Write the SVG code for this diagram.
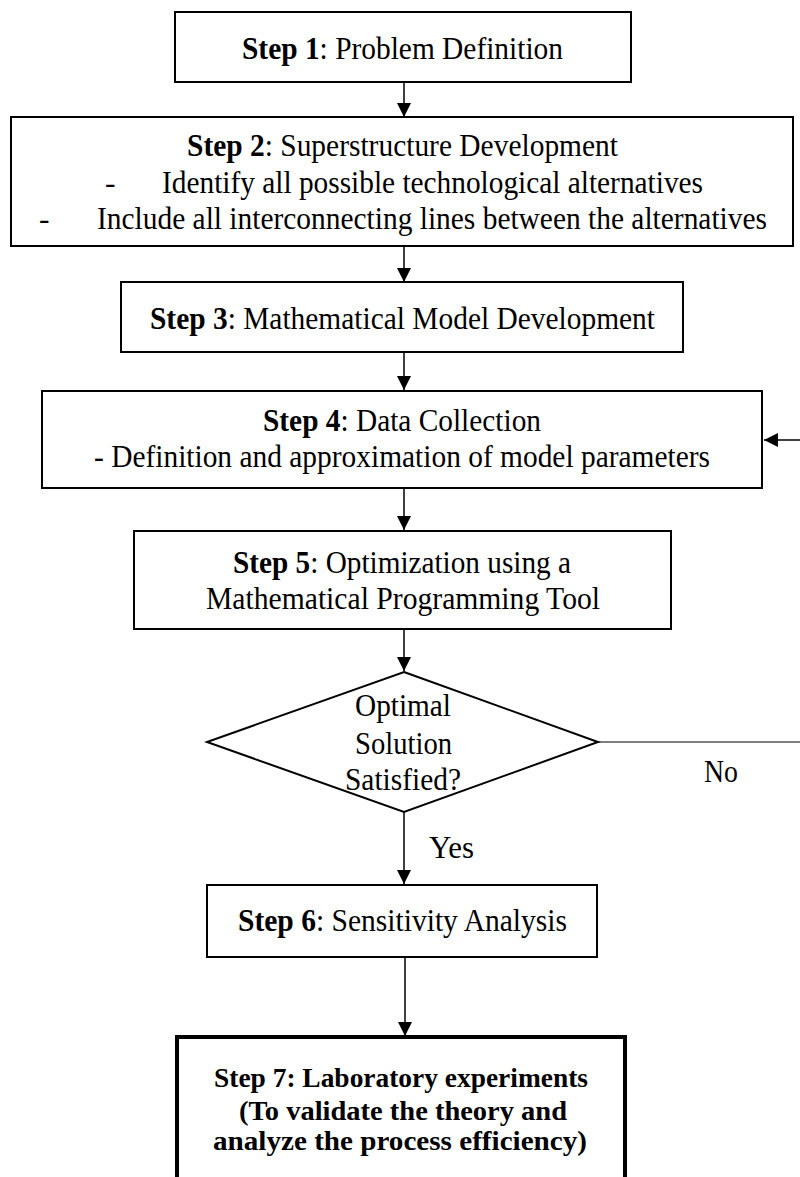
<svg xmlns="http://www.w3.org/2000/svg" width="800" height="1177" viewBox="0 0 800 1177">
<style>
.box{fill:#fff;stroke:#000;stroke-width:2}
.t{font-family:"Liberation Serif","Times New Roman",serif;font-size:31.5px;fill:#000}
.b{font-weight:bold}
.c{stroke:#000;stroke-width:1.5;fill:none}
.t7{font-family:"Liberation Serif","Times New Roman",serif;font-size:27.4px;font-weight:bold;fill:#000}
</style>
<defs>
<marker id="ah" markerWidth="14" markerHeight="14" viewBox="0 0 14 14" refX="14" refY="7" orient="auto" markerUnits="userSpaceOnUse">
<path d="M0,0 L14,7 L0,14 Z" fill="#000"/>
</marker>
</defs>
<rect width="800" height="1177" fill="#fff"/>
<g id="connectors">
<line class="c" x1="404" y1="82" x2="404" y2="117" marker-end="url(#ah)"/>
<line class="c" x1="404" y1="246" x2="404" y2="282" marker-end="url(#ah)"/>
<line class="c" x1="404" y1="352" x2="404" y2="390" marker-end="url(#ah)"/>
<line class="c" x1="404" y1="488" x2="404" y2="530" marker-end="url(#ah)"/>
<line class="c" x1="404" y1="629" x2="404" y2="671" marker-end="url(#ah)"/>
<line class="c" x1="404" y1="812" x2="404" y2="884" marker-end="url(#ah)"/>
<line class="c" x1="405" y1="957" x2="405" y2="1036" marker-end="url(#ah)"/>
<line x1="598" y1="742" x2="800" y2="742" stroke="#808080" stroke-width="2"/>
<line class="c" x1="800" y1="440" x2="764" y2="440" marker-end="url(#ah)"/>
<text class="t" x="704" y="782" textLength="34" lengthAdjust="spacingAndGlyphs">No</text>
<text class="t" x="429" y="858" textLength="45" lengthAdjust="spacingAndGlyphs">Yes</text>
</g>
<g id="step1">
<rect class="box" x="175" y="12" width="456" height="70"/>
<text class="t" x="242" y="59" textLength="321" lengthAdjust="spacingAndGlyphs"><tspan class="b">Step 1</tspan>: Problem Definition</text>
</g>
<g id="step2">
<rect class="box" x="11" y="117" width="782" height="129"/>
<text class="t" x="187" y="156" textLength="431" lengthAdjust="spacingAndGlyphs"><tspan class="b">Step 2</tspan>: Superstructure Development</text>
<text class="t" x="105" y="193">-</text>
<text class="t" x="162" y="193" textLength="541" lengthAdjust="spacingAndGlyphs">Identify all possible technological alternatives</text>
<text class="t" x="39" y="229">-</text>
<text class="t" x="97" y="229" textLength="670" lengthAdjust="spacingAndGlyphs">Include all interconnecting lines between the alternatives</text>
</g>
<g id="step3">
<rect class="box" x="121" y="282" width="562" height="70"/>
<text class="t" x="150" y="329" textLength="505" lengthAdjust="spacingAndGlyphs"><tspan class="b">Step 3</tspan>: Mathematical Model Development</text>
</g>
<g id="step4">
<rect class="box" x="42" y="391" width="720" height="97"/>
<text class="t" x="263" y="431" textLength="278" lengthAdjust="spacingAndGlyphs"><tspan class="b">Step 4</tspan>: Data Collection</text>
<text class="t" x="94" y="467" textLength="616" lengthAdjust="spacingAndGlyphs">- Definition and approximation of model parameters</text>
</g>
<g id="step5">
<rect class="box" x="134" y="531" width="537" height="98"/>
<text class="t" x="233" y="573" textLength="338" lengthAdjust="spacingAndGlyphs"><tspan class="b">Step 5</tspan>: Optimization using a</text>
<text class="t" x="206" y="609" textLength="394" lengthAdjust="spacingAndGlyphs">Mathematical Programming Tool</text>
</g>
<g id="decision">
<polygon points="404,672 598,742 404,812 207,742" fill="#fff" stroke="#000" stroke-width="2"/>
<text class="t" x="355" y="716" textLength="96" lengthAdjust="spacingAndGlyphs">Optimal</text>
<text class="t" x="355" y="754" textLength="97" lengthAdjust="spacingAndGlyphs">Solution</text>
<text class="t" x="345" y="790" textLength="116" lengthAdjust="spacingAndGlyphs">Satisfied?</text>
</g>
<g id="step6">
<rect class="box" x="207" y="885" width="390" height="72"/>
<text class="t" x="238" y="931" textLength="329" lengthAdjust="spacingAndGlyphs"><tspan class="b">Step 6</tspan>: Sensitivity Analysis</text>
</g>
<g id="step7">
<rect x="177" y="1037" width="448" height="160" fill="#fff" stroke="#000" stroke-width="4"/>
<text class="t7" x="214" y="1087" textLength="374" lengthAdjust="spacingAndGlyphs">Step 7: Laboratory experiments</text>
<text class="t7" x="239" y="1120" textLength="328" lengthAdjust="spacingAndGlyphs">(To validate the theory and</text>
<text class="t7" x="213" y="1150" textLength="374" lengthAdjust="spacingAndGlyphs">analyze the process efficiency)</text>
</g>
</svg>
